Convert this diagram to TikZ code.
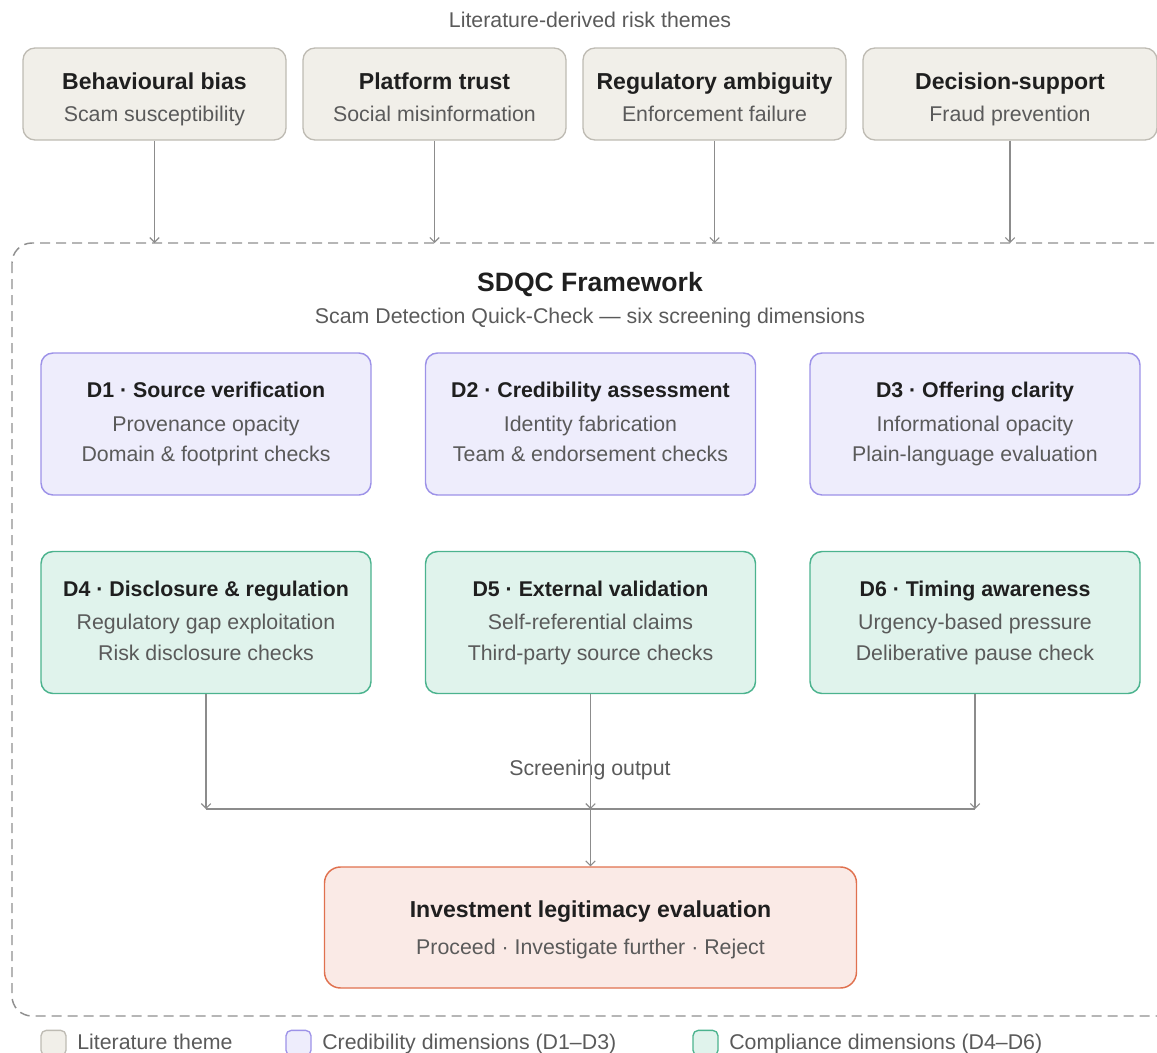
\documentclass[tikz,border=0pt]{standalone}
\usepackage{fontspec}
\setmainfont{Liberation Sans}
\usetikzlibrary{arrows.meta}
\definecolor{themefill}{HTML}{F1EFE9}
\definecolor{themedraw}{HTML}{BEBBB3}
\definecolor{credfill}{HTML}{EEEDFC}
\definecolor{creddraw}{HTML}{9D92E8}
\definecolor{compfill}{HTML}{E0F3EC}
\definecolor{compdraw}{HTML}{4BB38E}
\definecolor{outfill}{HTML}{FAEAE6}
\definecolor{outdraw}{HTML}{E0714F}
\definecolor{titletext}{HTML}{1F1F1F}
\definecolor{subtext}{HTML}{5A5A5A}
\definecolor{linegrey}{HTML}{8C8C8C}
\definecolor{dashgrey}{HTML}{8F8F8F}
\tikzset{
  themebox/.style={draw=themedraw, fill=themefill, line width=1pt, rounded corners=9pt,
    minimum width=197.25pt, minimum height=69pt, inner sep=0pt},
  credbox/.style={draw=creddraw, fill=credfill, line width=1.1pt, rounded corners=9pt,
    minimum width=247.5pt, minimum height=106.5pt, inner sep=0pt},
  compbox/.style={draw=compdraw, fill=compfill, line width=1.1pt, rounded corners=9pt,
    minimum width=247.5pt, minimum height=106.5pt, inner sep=0pt},
  outbox/.style={draw=outdraw, fill=outfill, line width=1.1pt, rounded corners=12pt,
    minimum width=399pt, minimum height=90.75pt, inner sep=0pt},
  ttl/.style={font=\fontsize{17.3pt}{20pt}\selectfont\bfseries, text=titletext,
    inner sep=0pt, text height=12.4pt, text depth=0pt},
  dttl/.style={ttl, font=\fontsize{16pt}{19pt}\selectfont\bfseries, text height=11.5pt},
  sub/.style={font=\fontsize{16pt}{19pt}\selectfont, text=subtext,
    inner sep=0pt, text height=11.5pt, text depth=0pt},
  conn/.style={draw=linegrey, line width=0.9pt},
  arr/.style={conn, -{Straight Barb[length=3.5pt,width=7pt,line width=0.8pt]}},
  legbox/.style={line width=1pt, rounded corners=4pt, minimum width=18.75pt,
    minimum height=19pt, inner sep=0pt},
}
\begin{document}
\begin{tikzpicture}[x=0.75pt,y=-0.75pt]
\useasboundingbox (0,0) rectangle (1157,1053);
\clip (0,0) rectangle (1157,1053);

% header
\node[sub] (hdr) at (590,20) {Literature-derived risk themes};

% theme boxes
\node[themebox] (t1) at (154.5,94) {};
\node[themebox] (t2) at (434.5,94) {};
\node[themebox] (t3) at (714.5,94) {};
\node[themebox, minimum width=220.5pt] (t4) at (1010,94) {};
\node[ttl] (t1a) at (154.5,81) {Behavioural bias};
\node[sub] (t1b) at (154.5,114) {Scam susceptibility};
\node[ttl] (t2a) at (434.5,81) {Platform trust};
\node[sub] (t2b) at (434.5,114) {Social misinformation};
\node[ttl] (t3a) at (714.5,81) {Regulatory ambiguity};
\node[sub] (t3b) at (714.5,114) {Enforcement failure};
\node[ttl] (t4a) at (1010,81) {Decision-support};
\node[sub] (t4b) at (1010,114) {Fraud prevention};

% framework container
\draw[dashgrey, line width=1.1pt, dash pattern=on 7.5pt off 4.5pt, rounded corners=15pt]
  (12,243) rectangle (1185,1016);
\node[font=\fontsize{19.9pt}{23pt}\selectfont\bfseries, text=titletext, inner sep=0pt,
  text height=14.3pt, text depth=0pt] (fw) at (590,282) {SDQC Framework};
\node[sub] (fws) at (590,316) {Scam Detection Quick-Check — six screening dimensions};

% arrows into container
\coordinate (e1) at (154.5,243);
\coordinate (e2) at (434.5,243);
\coordinate (e3) at (714.5,243);
\coordinate (e4) at (1010,243);
\draw[arr] (t1.south) -- (e1);
\draw[arr] (t2.south) -- (e2);
\draw[arr] (t3.south) -- (e3);
\draw[arr] (t4.south) -- (e4);

% credibility dimensions
\node[credbox] (d1) at (206,424) {};
\node[credbox] (d2) at (590.5,424) {};
\node[credbox] (d3) at (975,424) {};
\node[dttl] (d1a) at (206,390) {D1 · Source verification};
\node[sub] (d1b) at (206,424) {Provenance opacity};
\node[sub] (d1c) at (206,454) {Domain \& footprint checks};
\node[dttl] (d2a) at (590.5,390) {D2 · Credibility assessment};
\node[sub] (d2b) at (590.5,424) {Identity fabrication};
\node[sub] (d2c) at (590.5,454) {Team \& endorsement checks};
\node[dttl] (d3a) at (975,390) {D3 · Offering clarity};
\node[sub] (d3b) at (975,424) {Informational opacity};
\node[sub] (d3c) at (975,454) {Plain-language evaluation};

% compliance dimensions
\node[compbox] (d4) at (206,622.5) {};
\node[compbox] (d5) at (590.5,622.5) {};
\node[compbox] (d6) at (975,622.5) {};
\node[dttl] (d4a) at (206,589) {D4 · Disclosure \& regulation};
\node[sub] (d4b) at (206,622) {Regulatory gap exploitation};
\node[sub] (d4c) at (206,653) {Risk disclosure checks};
\node[dttl] (d5a) at (590.5,589) {D5 · External validation};
\node[sub] (d5b) at (590.5,622) {Self-referential claims};
\node[sub] (d5c) at (590.5,653) {Third-party source checks};
\node[dttl] (d6a) at (975,589) {D6 · Timing awareness};
\node[sub] (d6b) at (975,622) {Urgency-based pressure};
\node[sub] (d6c) at (975,653) {Deliberative pause check};

% screening output
\node[sub] (scr) at (590,768) {Screening output};
\coordinate (j4) at (206,809);
\coordinate (j5) at (590.5,809);
\coordinate (j6) at (975,809);
\draw[arr] (d4.south) -- (j4);
\draw[arr] (d5.south) -- (j5);
\draw[arr] (d6.south) -- (j6);
\draw[conn] (j4) -- (j6);

\node[outbox] (out) at (590.5,927.5) {};
\draw[arr] (j5) -- (out.north);
\node[ttl] (outa) at (590.5,909) {Investment legitimacy evaluation};
\node[sub] (outb) at (590.5,947) {Proceed · Investigate further · Reject};

% legend
\node[legbox, draw=themedraw, fill=themefill] (l1) at (53.5,1043) {};
\node[sub, anchor=west] (l1t) at (77,1042) {Literature theme};
\node[legbox, draw=creddraw, fill=credfill] (l2) at (298.5,1043) {};
\node[sub, anchor=west] (l2t) at (322,1042) {Credibility dimensions (D1–D3)};
\node[legbox, draw=compdraw, fill=compfill] (l3) at (705.5,1043) {};
\node[sub, anchor=west] (l3t) at (729,1042) {Compliance dimensions (D4–D6)};
\end{tikzpicture}
\end{document}
